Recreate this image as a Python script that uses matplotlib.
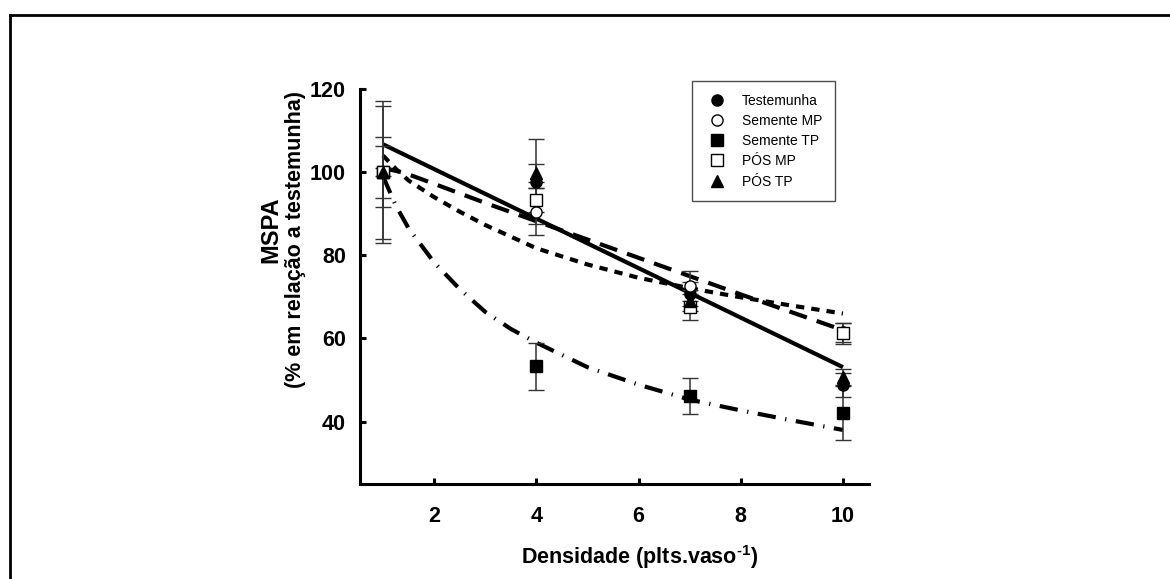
import numpy as np
import matplotlib
matplotlib.use('Agg')
import matplotlib.pyplot as plt
from matplotlib.lines import Line2D

plt.rcParams['font.family'] = ['Liberation Sans', 'DejaVu Sans']
plt.rcParams['mathtext.fontset'] = 'custom'
plt.rcParams['mathtext.rm'] = 'Liberation Sans:bold'
plt.rcParams['mathtext.bf'] = 'Liberation Sans:bold'

# mean values (% of control) per density
dens = [1, 4, 7, 10]
testemunha = [100, 97.7, 70.7, 48.9]
testemunha_err = [17, 10.2, 3.0, 2.9]
semente_mp = [100, 90.5, 72.7, 61.5]
semente_mp_err = [16, 5.7, 3.6, 2.3]
semente_tp = [100, 53.3, 46.2, 42.0]
semente_tp_err = [8.4, 5.6, 4.4, 6.5]
pos_mp = [100, 93.3, 67.6, 61.2]
pos_mp_err = [6.2, 3.0, 3.2, 2.6]
pos_tp = [100, 99.8, 69.1, 50.7]
pos_tp_err = [1.0, 2.2, 2.5, 2.0]

# fitted curves
fit_solid_x = [1, 10]
fit_solid_y = [106.7, 53.1]
fit_long_x = [1, 1.4, 2, 3, 4, 5, 6, 7, 8, 9, 10]
fit_long_y = [101, 99.9, 97.2, 92.6, 88.2, 83.8, 79.4, 75.0, 70.6, 66.3, 62.0]
fit_short_x = [1, 1.25, 1.5, 2, 2.5, 3, 4, 5, 6, 7, 8, 9, 10]
fit_short_y = [104, 100.8, 98.0, 94.0, 90.5, 87.3, 81.7, 77.8, 74.6, 72.1, 69.9, 67.9, 66.0]
fit_dd_x = [1, 1.25, 1.5, 2, 2.5, 3, 3.5, 4, 5, 6, 7, 8, 9, 10]
fit_dd_y = [99, 92, 86.5, 78.3, 71.9, 66.4, 62.3, 59, 53.1, 48.9, 45.3, 42.7, 40.3, 38]

labels = ['Testemunha', 'Semente MP', 'Semente TP', 'PÓS MP', 'PÓS TP']

fig = plt.figure(figsize=(11.7, 5.79), dpi=100)
ax = fig.add_axes([360/1170, 1-484/579, 508.5/1170, 395/579])

lw = 3.0
ax.plot(fit_solid_x, fit_solid_y, color='k', lw=lw, solid_capstyle='butt')
ax.plot(fit_long_x, fit_long_y, color='k', lw=lw, linestyle=(0, (4.4, 2.5)))
ax.plot(fit_short_x, fit_short_y, color='k', lw=lw, linestyle=(0, (2.0, 1.7)))
ax.plot(fit_dd_x, fit_dd_y, color='k', lw=lw, linestyle=(0, (4.4, 2.3, 0.3, 2.3)))

series = [
    (testemunha, testemunha_err, 'o', 'k'),
    (semente_mp, semente_mp_err, 'o', 'w'),
    (semente_tp, semente_tp_err, 's', 'k'),
    (pos_mp, pos_mp_err, 's', 'w'),
    (pos_tp, pos_tp_err, '^', 'k'),
]
handles = []
for (vals, err, m, fc), lab in zip(series, labels):
    ax.errorbar(dens, vals, yerr=err, fmt=m, mfc=fc, mec='k', mew=1.0,
                ms=8, ecolor='#333333', elinewidth=1.1, capsize=6, capthick=1.1,
                zorder=5)
    handles.append(Line2D([], [], marker=m, mfc=fc, mec='k', mew=1.0, ms=8,
                          linestyle='none', label=lab))

ax.set_xlim(0.55, 10.5)
ax.set_ylim(25, 120)
ax.set_xticks([2, 4, 6, 8, 10])
ax.set_yticks([40, 60, 80, 100, 120])
for s in ['top', 'right']:
    ax.spines[s].set_visible(False)
for s in ['left', 'bottom']:
    ax.spines[s].set_linewidth(2.2)
ax.tick_params(axis='both', direction='in', length=4, width=2.2, labelsize=15.5)
ax.tick_params(axis='x', pad=16)
ax.tick_params(axis='y', pad=10)
for t in ax.get_xticklabels() + ax.get_yticklabels():
    t.set_fontweight('bold')

fig.text(640/1170, 1-557/579, r'Densidade (plts.vaso$^{\text{-1}}$)', ha='center', va='center',
         fontsize=15.5, fontweight='bold')
fig.text(271/1170, 1-230/579, 'MSPA', ha='center', va='center',
         rotation=90, fontsize=17, fontweight='bold')
fig.text(296/1170, 1-239/579, '(% em relação a testemunha)', ha='center', va='center',
         rotation=90, fontsize=15.5, fontweight='bold')

leg = ax.legend(handles=handles, loc='upper left', bbox_to_anchor=(692/1170, 1-81/579),
                bbox_transform=fig.transFigure, fontsize=10, frameon=True, fancybox=False,
                edgecolor='#222222', borderpad=0.9, labelspacing=0.45, handlelength=1.8,
                handletextpad=0.9, borderaxespad=0)
leg.get_frame().set_linewidth(1.0)

# page border (top and left)
fig.add_artist(Line2D([10/1170, 1], [1-15/579, 1-15/579], color='k', lw=2))
fig.add_artist(Line2D([10/1170, 10/1170], [0, 1-15/579], color='k', lw=2))

fig.savefig('out.png', dpi=100)
